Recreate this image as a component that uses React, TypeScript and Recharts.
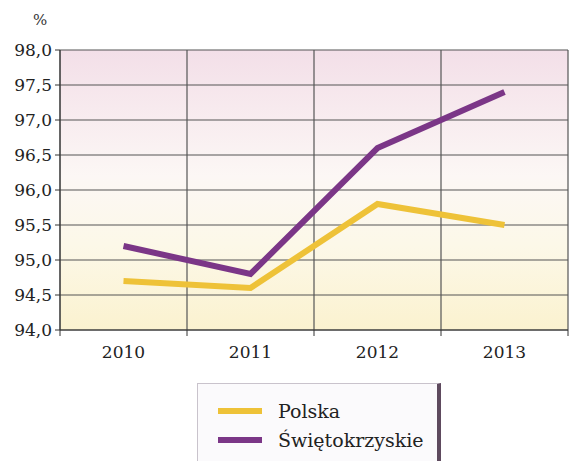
import {
    LineChart,
    Line,
    XAxis,
    YAxis,
    CartesianGrid,
} from 'recharts';

const years = ['2010', '2011', '2012', '2013'];
const polska = [94.7, 94.6, 95.8, 95.5];
const swietokrzyskie = [95.2, 94.8, 96.6, 97.4];
const yTicks = [94.0, 94.5, 95.0, 95.5, 96.0, 96.5, 97.0, 97.5, 98.0];
const bandEdges = [-0.5, 0.5, 1.5, 2.5, 3.5];

const YELLOW = '#eec238';
const PURPLE = '#7b3687';
const FONT = "'DejaVu Serif', 'Liberation Serif', serif";

const chartData = years.map((year, i) => ({
    idx: i,
    year,
    polska: polska[i],
    swietokrzyskie: swietokrzyskie[i],
}));

const seriesInfo = [
    { name: 'Polska', color: YELLOW },
    { name: 'Świętokrzyskie', color: PURPLE },
];

function LegendBox() {
    return (
        <div
            style={{
                position: 'absolute',
                left: 197,
                top: 383,
                width: 244,
                height: 80,
                background: '#fbfafc',
                borderTop: '1px solid #c9c3cc',
                borderLeft: '1px solid #c9c3cc',
                borderRight: '4px solid #5e4a5e',
                boxSizing: 'border-box',
                paddingTop: 12,
                paddingLeft: 20,
                fontFamily: FONT,
                fontSize: 19,
                color: '#222',
            }}
        >
            {seriesInfo.map(s => (
                <div key={s.name} style={{ display: 'flex', alignItems: 'center', height: 29 }}>
                    <span style={{ display: 'inline-block', width: 44, height: 6, background: s.color, marginRight: 16 }} />
                    <span>{s.name}</span>
                </div>
            ))}
        </div>
    );
}

export default function App() {
    return (
        <div style={{ position: 'absolute', left: 0, top: 0, width: 569, height: 461, background: '#fff' }}>
            <div style={{ position: 'absolute', left: 33, top: 11, fontFamily: FONT, fontSize: 15, color: '#333' }}>%</div>
            <LineChart
                width={569}
                height={461}
                data={chartData}
                margin={{ top: 50, right: 1, left: 0, bottom: 93 }}
            >
                <defs>
                    <linearGradient id="bgGrad" x1="0" y1="0" x2="0" y2="1">
                        <stop offset="0%" stopColor="#f3dfe8" />
                        <stop offset="45%" stopColor="#fcf7f5" />
                        <stop offset="70%" stopColor="#fcf8e8" />
                        <stop offset="100%" stopColor="#fbf2cf" />
                    </linearGradient>
                </defs>
                <CartesianGrid
                    xAxisId="band"
                    fill="url(#bgGrad)"
                    stroke="#555"
                    strokeWidth={1.2}
                />
                <XAxis
                    xAxisId="band"
                    type="number"
                    dataKey="idx"
                    domain={[-0.5, 3.5]}
                    ticks={bandEdges}
                    tickFormatter={() => ''}
                    stroke="#333"
                    tickSize={6}
                    height={8}
                    allowDataOverflow
                />
                <XAxis
                    xAxisId="year"
                    type="number"
                    dataKey="idx"
                    domain={[-0.5, 3.5]}
                    ticks={[0, 1, 2, 3]}
                    tickFormatter={(v) => years[v] ?? ''}
                    axisLine={false}
                    tickLine={false}
                    height={30}
                    tick={{ fontFamily: FONT, fontSize: 17, fill: '#222' }}
                    allowDataOverflow
                />
                <YAxis
                    domain={[94, 98]}
                    ticks={yTicks}
                    width={60}
                    stroke="#333"
                    tickSize={5}
                    tickMargin={3}
                    interval={0}
                    tickFormatter={(v) => v.toFixed(1).replace('.', ',')}
                    tick={{ fontFamily: FONT, fontSize: 17, fill: '#222' }}
                />
                <Line
                    xAxisId="year"
                    dataKey="polska"
                    name="Polska"
                    stroke={YELLOW}
                    strokeWidth={6}
                    dot={false}
                    isAnimationActive={false}
                />
                <Line
                    xAxisId="year"
                    dataKey="swietokrzyskie"
                    name="Świętokrzyskie"
                    stroke={PURPLE}
                    strokeWidth={6}
                    dot={false}
                    isAnimationActive={false}
                />
            </LineChart>
            <LegendBox />
        </div>
    );
}
